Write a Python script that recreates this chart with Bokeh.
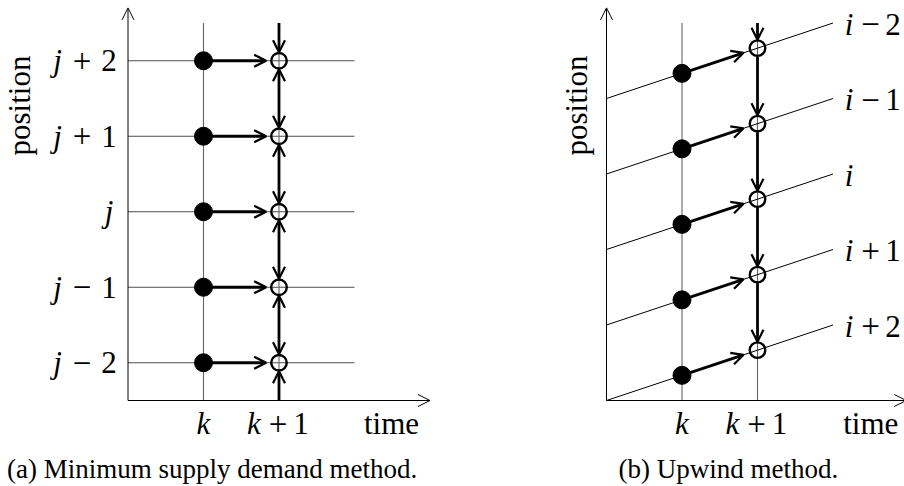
import math
from bokeh.plotting import figure
from bokeh.models import Range1d, Arrow, OpenHead, ColumnDataSource
from bokeh.layouts import row
from bokeh.core.properties import value
from bokeh.embed import file_html
from bokeh.resources import INLINE

# ---------------- data ----------------
time_steps = [1, 2]
time_var = ["k", "k"]
time_op = ["", "+"]
time_num = ["", "1"]
x_name = "time"
y_name = "position"

# (a) minimum supply demand method: cells at fixed positions
a_cells = [0.5, 1.5, 2.5, 3.5, 4.5]
a_var = ["j", "j", "j", "j", "j"]
a_op = ["\u2212", "\u2212", "", "+", "+"]
a_num = ["2", "1", "", "1", "2"]
caption_a = "(a)  Minimum supply demand method."

# (b) upwind method: characteristics (position at time 0 and at time 3)
b_start = [0, 1, 2, 3, 4]
b_end = [1, 2, 3, 4, 5]
b_dot = [0.333, 1.333, 2.333, 3.333, 4.333]      # at time k
b_circle = [0.667, 1.667, 2.667, 3.667, 4.667]   # at time k+1
b_var = ["i", "i", "i", "i", "i"]
b_op = ["+", "+", "", "\u2212", "\u2212"]
b_num = ["2", "1", "", "1", "2"]
caption_b = "(b)  Upwind method."

# ---------------- styling / geometry ----------------
PX = 75.5           # pixels per unit
H = 486
SERIF = value("Liberation Serif")
FS = "31px"
GRID = "#666666"
R = 8.5 / PX        # circle radius in data units
T_END = 3.0         # end of grid lines
Y_TOP = 5.0
AX_X = 4.0
AX_Y = 5.2


def make_fig(width, ox, oy):
    x0 = -ox / PX
    p = figure(width=width, height=H,
               x_range=Range1d(x0, x0 + width / PX),
               y_range=Range1d(-(H - oy) / PX, oy / PX),
               output_backend="svg", toolbar_location=None,
               x_axis_location=None, y_axis_location=None,
               min_border=0)
    p.grid.visible = False
    p.outline_line_color = None
    p.background_fill_color = "white"
    p.border_fill_color = "white"
    return p


def axes(p, xend):
    src = ColumnDataSource(dict(x0=[0, 0], y0=[0, 0], x1=[xend, 0], y1=[0, AX_Y]))
    p.add_layout(Arrow(x_start="x0", y_start="y0", x_end="x1", y_end="y1", source=src,
                       line_color="black", line_width=1,
                       end=OpenHead(size=12, line_width=1, line_color="black")))


def arrows(p, x0, y0, x1, y1, both=False):
    src = ColumnDataSource(dict(x0=x0, y0=y0, x1=x1, y1=y1))
    kw = {}
    if both:
        kw["start"] = OpenHead(size=12, line_width=2.2, line_color="black")
    p.add_layout(Arrow(x_start="x0", y_start="y0", x_end="x1", y_end="y1", source=src,
                       line_color="black", line_width=2.8,
                       end=OpenHead(size=12, line_width=2.2, line_color="black"), **kw))


def label(p, xs, ys, var, op, num, dxv, dxo, dxn, dxs, dy):
    src_v = ColumnDataSource(dict(x=xs, y=ys, t=var,
                                  dx=[dxs if o == "" else dxv for o in op]))
    p.text(x="x", y="y", text="t", x_offset="dx", y_offset=dy, source=src_v,
           text_font=SERIF, text_font_style="italic", text_font_size=FS,
           text_align="center", text_baseline="alphabetic", text_color="black")
    idx = [i for i, o in enumerate(op) if o]
    src_o = ColumnDataSource(dict(x=[xs[i] for i in idx], y=[ys[i] for i in idx],
                                  t=[op[i] for i in idx]))
    p.text(x="x", y="y", text="t", x_offset=dxo, y_offset=dy, source=src_o,
           text_font=SERIF, text_font_size="33px",
           text_align="center", text_baseline="alphabetic", text_color="black")
    src_n = ColumnDataSource(dict(x=[xs[i] for i in idx], y=[ys[i] for i in idx],
                                  t=[num[i] for i in idx]))
    p.text(x="x", y="y", text="t", x_offset=dxn, y_offset=dy, source=src_n,
           text_font=SERIF, text_font_size=FS,
           text_align="center", text_baseline="alphabetic", text_color="black")


# ================= panel (a) =================
pa = make_fig(450, 127.5, 400)
n = len(a_cells)
pa.segment(x0=[0] * n, y0=a_cells, x1=[T_END] * n, y1=a_cells, line_color="#4d4d4d", line_width=1.1)
pa.segment(x0=time_steps, y0=[0, 0], x1=time_steps, y1=[Y_TOP, Y_TOP], line_color=GRID, line_width=1.1)
axes(pa, AX_X)
# flows k -> k+1
arrows(pa, [time_steps[0]] * n, a_cells, [1.83] * n, a_cells)
# vertical exchanges at k+1
xk1 = time_steps[1]
arrows(pa, [xk1], [Y_TOP], [xk1], [a_cells[-1] + R])
arrows(pa, [xk1] * (n - 1), [c + R for c in a_cells[:-1]], [xk1] * (n - 1),
       [c - R for c in a_cells[1:]], both=True)
arrows(pa, [xk1], [0], [xk1], [a_cells[0] - R])
pa.scatter(x=[time_steps[0]] * n, y=a_cells, size=18, marker="circle",
           fill_color="black", line_color="black")
pa.scatter(x=[xk1] * n, y=a_cells, size=15.5, marker="circle",
           fill_color=None, line_color="black", line_width=2.4)
label(pa, [0] * n, a_cells, a_var, a_op, a_num, -70.5, -46, -19, -19, 0)
label(pa, time_steps, [0, 0], time_var, time_op, time_num, -25, -1, 22, 0, 23)
pa.text(x=[3.49], y=[0], text=[x_name], y_offset=23, text_font=SERIF, text_font_size=FS,
        text_align="center", text_baseline="alphabetic", text_color="black")
pa.text(x=[-1.437], y=[3.907], text=[y_name], angle=math.pi / 2, text_font=SERIF,
        text_font_size=FS, text_align="center", text_baseline="middle", text_color="black")
pa.text(x=[1.159], y=[0], text=[caption_a], y_offset=68, text_font=SERIF, text_font_size="27px",
        text_align="center", text_baseline="alphabetic", text_color="black")

# ================= panel (b) =================
pb = make_fig(454, 156, 400)
m = len(b_start)
pb.segment(x0=time_steps, y0=[0, 0], x1=time_steps, y1=[Y_TOP, Y_TOP], line_color=GRID, line_width=1.1)
pb.segment(x0=[0] * m, y0=b_start, x1=[T_END] * m, y1=b_end, line_color="black", line_width=1)
axes(pb, 3.97)
# flows along characteristics
f = 0.815
arrows(pb, [time_steps[0]] * m, b_dot, [time_steps[0] + f] * m,
       [d + (c - d) * f for d, c in zip(b_dot, b_circle)])
# vertical downward transfers at k+1
arrows(pb, [xk1], [Y_TOP], [xk1], [b_circle[-1] + R])
arrows(pb, [xk1] * (m - 1), [c - R for c in b_circle[1:]], [xk1] * (m - 1),
       [c + R for c in b_circle[:-1]])
pb.scatter(x=[time_steps[0]] * m, y=b_dot, size=18, marker="circle",
           fill_color="black", line_color="black")
pb.scatter(x=[xk1] * m, y=b_circle, size=15.5, marker="circle",
           fill_color=None, line_color="black", line_width=2.4)
label(pb, [T_END] * m, b_end, b_var, b_op, b_num, 16, 37.5, 60, 16, 1)
label(pb, time_steps, [0, 0], time_var, time_op, time_num, -25, -1, 22, 0, 23)
pb.text(x=[3.50], y=[0], text=[x_name], y_offset=23, text_font=SERIF, text_font_size=FS,
        text_align="center", text_baseline="alphabetic", text_color="black")
pb.text(x=[-0.397], y=[3.907], text=[y_name], angle=math.pi / 2, text_font=SERIF,
        text_font_size=FS, text_align="center", text_baseline="middle", text_color="black")
pb.text(x=[1.66], y=[0], text=[caption_b], y_offset=68, text_font=SERIF, text_font_size="27px",
        text_align="center", text_baseline="alphabetic", text_color="black")

p = row(pa, pb)
open("out.html", "w").write(file_html(p, INLINE))
